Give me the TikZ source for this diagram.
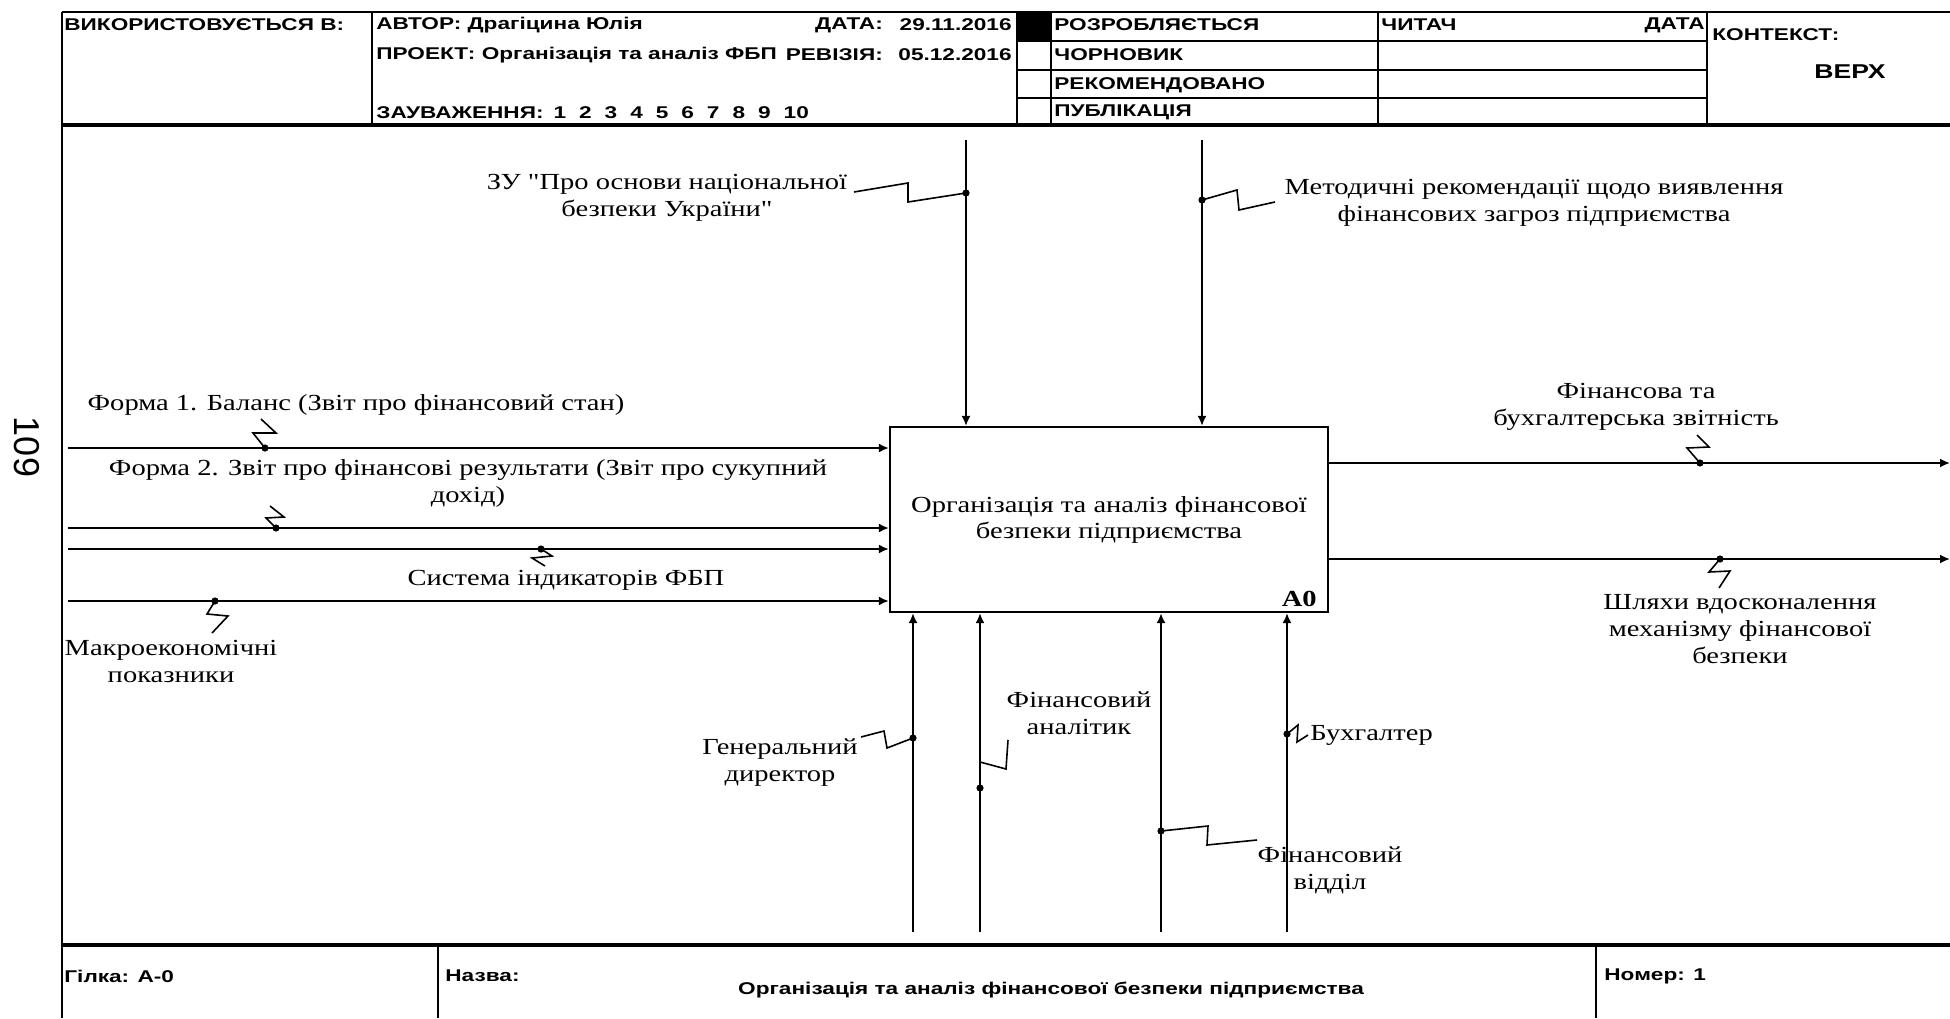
\documentclass[tikz,border=0pt]{standalone}
\usepackage{fontspec}
\newfontfamily\lblfont{Liberation Serif}[FakeStretch=1.24]
\newfontfamily\hdrfont{Liberation Sans}[FakeStretch=1.33]
\newfontfamily\pgnfont{Liberation Sans}
\usetikzlibrary{arrows.meta,positioning}

\begin{document}
\begin{tikzpicture}[x=0.5pt,y=-0.5pt,>=Latex,node distance=2pt]
\tikzstyle{lbl}=[align=center,inner sep=0pt,font=\lblfont\fontsize{11.5}{13.5}\selectfont]
\tikzstyle{hdr}=[anchor=west,inner sep=0pt,font=\hdrfont\bfseries\fontsize{8.5}{10}\selectfont]
\tikzstyle{func}=[draw,line width=1.1pt,minimum width=219pt,minimum height=92.5pt,align=center,font=\lblfont\fontsize{11.5}{13}\selectfont]
\tikzstyle{flow}=[-{Latex[length=5pt,width=4.5pt]},line width=1.4pt]
\tikzstyle{flowthin}=[flow,line width=0.9pt]
\tikzstyle{tilde}=[line width=0.8pt]
\tikzstyle{frame}=[line width=0.7pt]
\tikzstyle{heavy}=[line width=1.6pt]
\useasboundingbox (0,0) rectangle (1950,1018);
\fill[white] (0,0) rectangle (1950,1018);

% header and footer frame
\draw[frame] (62,12) -- (1950,12);
\draw[frame] (62,12) -- (62,1018);
\foreach \x in {372,1017,1051,1378,1707} \draw[frame] (\x,12) -- (\x,125);
\foreach \y in {41,70,98} \draw[frame] (1017,\y) -- (1707,\y);
\fill (1017,12) rectangle (1051,41);
\draw[heavy] (62,125) -- (1950,125);
\draw[heavy] (62,945) -- (1950,945);
\foreach \x in {438,1596} \draw[frame] (\x,945) -- (\x,1018);

\node[hdr] (used) at (64,25) {ВИКОРИСТОВУЄТЬСЯ В:};
\node[hdr] (author) at (376,25) {АВТОР: Драгіцина Юлія};
\node[hdr] (proj) at (376,55) {ПРОЕКТ: Організація та аналіз ФБП};
\node[hdr,right=4pt of proj] (rev) {РЕВІЗІЯ:};
\node[hdr,anchor=east] (date1) at (rev.east |- author) {ДАТА:};
\node[hdr,anchor=east] (date1v) at (1012,25) {29.11.2016};
\node[hdr,anchor=east] (revv) at (1012,55) {05.12.2016};
\node[hdr] (notes) at (376,113) {ЗАУВАЖЕННЯ:\hspace{5pt}1\hspace{6.5pt}2\hspace{6.5pt}3\hspace{6.5pt}4\hspace{6.5pt}5\hspace{6.5pt}6\hspace{6.5pt}7\hspace{6.5pt}8\hspace{6.5pt}9\hspace{6.5pt}10};
\node[hdr] (st1) at (1054,25) {РОЗРОБЛЯЄТЬСЯ};
\node[hdr] (st2) at (1054,55) {ЧОРНОВИК};
\node[hdr] (st3) at (1054,85) {РЕКОМЕНДОВАНО};
\node[hdr] (st4) at (1054,112) {ПУБЛІКАЦІЯ};
\node[hdr] (reader) at (1381,25) {ЧИТАЧ};
\node[hdr,anchor=east] (date2) at (1705,25) {ДАТА};
\node[hdr] (ctx) at (1712,35) {КОНТЕКСТ:};
\node[hdr,anchor=center,font=\hdrfont\bfseries\fontsize{10}{12}\selectfont] (ctxv) at (1850,72) {ВЕРХ};

\node[hdr] (branch) at (64,976) {Гілка: А-0};
\node[hdr] (title) at (445,976) {Назва:};
\node[hdr,anchor=center] (titlev) at (1051,990) {Організація та аналіз фінансової безпеки підприємства};
\node[hdr] (num) at (1604,976) {Номер: 1};

\node[rotate=-90,inner sep=0pt,font=\pgnfont\fontsize{18}{18}\selectfont] (pg) at (27,447) {109};

% function box
\node[func] (a0) at (1109,519.5) {Організація та аналіз фінансової\\безпеки підприємства};
\node[anchor=south east,inner sep=0pt,font=\lblfont\bfseries\fontsize{11.5}{13}\selectfont] (a0num) at ([xshift=-6pt,yshift=3pt]a0.south east) {A0};

% inputs, controls, outputs, mechanisms
\foreach \n/\y in {i1/448,i2/528,i3/549,i4/601}{
  \coordinate (\n) at (68,\y);
  \draw[flow] (\n) -- (\n -| a0.west);
}
\coordinate (c1) at (966,140);
\coordinate (c2) at (1202,140);
\draw[flowthin] (c1) -- (c1 |- a0.north);
\draw[flow] (c2) -- (c2 |- a0.north);
\coordinate (o1) at (1950,463);
\coordinate (o2) at (1950,559);
\foreach \n in {o1,o2}{\draw[flowthin] (\n -| a0.east) -- (\n);}
\foreach \n/\x in {m1/913,m2/980,m3/1161}{
  \coordinate (\n) at (\x,932);
  \draw[flow] (\n) -- (\n |- a0.south);
}
\coordinate (m4) at (1287,932);
\draw[flowthin] (m4) -- (m4 |- a0.south);

% tildes
\foreach \n/\x/\y in {t1/265/448,t2/276/528,t3/541/549,t4/215/601,t5/966/193,t6/1202/200,t7/1700/463,t8/1720/559,t9/913/738,t10/980/788,t11/1161/831,t12/1287/734}{
  \coordinate (\n) at (\x,\y);
  \fill (\n) circle[radius=1.8pt];
}
\draw[tilde] (t1) -- ++(-12,-15) -- ++(23,0) -- ++(-15,-14);
\draw[tilde] (t2) -- ++(-10,-10) -- ++(18,-1) -- ++(-14,-11);
\draw[tilde] (t3) -- ++(11,7) -- ++(-20,2) -- ++(13,8);
\draw[tilde] (t4) -- ++(-8,13) -- ++(21,2) -- ++(-16,17);
\draw[tilde] (t5) -- ++(-58,9) -- ++(0,-19) -- ++(-54,9);
\draw[tilde] (t6) -- ++(35,-10) -- ++(2,20) -- ++(36,-8);
\draw[tilde] (t7) -- ++(-13,-15) -- ++(22,-1) -- ++(-12,-12);
\draw[tilde] (t8) -- ++(-11,13) -- ++(21,-1) -- ++(-11,17);
\draw[tilde] (t9) -- ++(-26,10) -- ++(-3,-17) -- ++(-23,6);
\draw[tilde] (t10) ++(0,-26) -- ++(26,7) -- ++(2,-29);
\draw[tilde] (t11) -- ++(47,-5) -- ++(-1,19) -- ++(50,-5);
\draw[tilde] (t12) -- ++(11,-9) -- ++(-1,17) -- ++(11,-7);

% labels
\node[lbl] (l1) at (356,405) {Форма 1. Баланс (Звіт про фінансовий стан)};
\node[lbl] (l2) at (468,483) {Форма 2. Звіт про фінансові результати (Звіт про сукупний\\дохід)};
\node[lbl] (l3) at (566,580) {Система індикаторів ФБП};
\node[lbl] (l4) at (171,661) {Макроекономічні\\показники};
\node[lbl] (l5) at (667,198) {ЗУ "Про основи національної\\безпеки України"};
\node[lbl] (l6) at (1534,203) {Методичні рекомендації щодо виявлення\\фінансових загроз підприємства};
\node[lbl] (l7) at (1636,407) {Фінансова та\\бухгалтерська звітність};
\node[lbl] (l8) at (1740,629) {Шляхи вдосконалення\\механізму фінансової\\безпеки};
\node[lbl] (l9) at (780,763) {Генеральний\\директор};
\node[lbl] (l10) at (1079,713) {Фінансовий\\аналітик};
\node[lbl] (l11) at (1330,870) {Фінансовий\\відділ};
\node[lbl,anchor=west] (l12) at (1310,735) {Бухгалтер};
\end{tikzpicture}
\end{document}
